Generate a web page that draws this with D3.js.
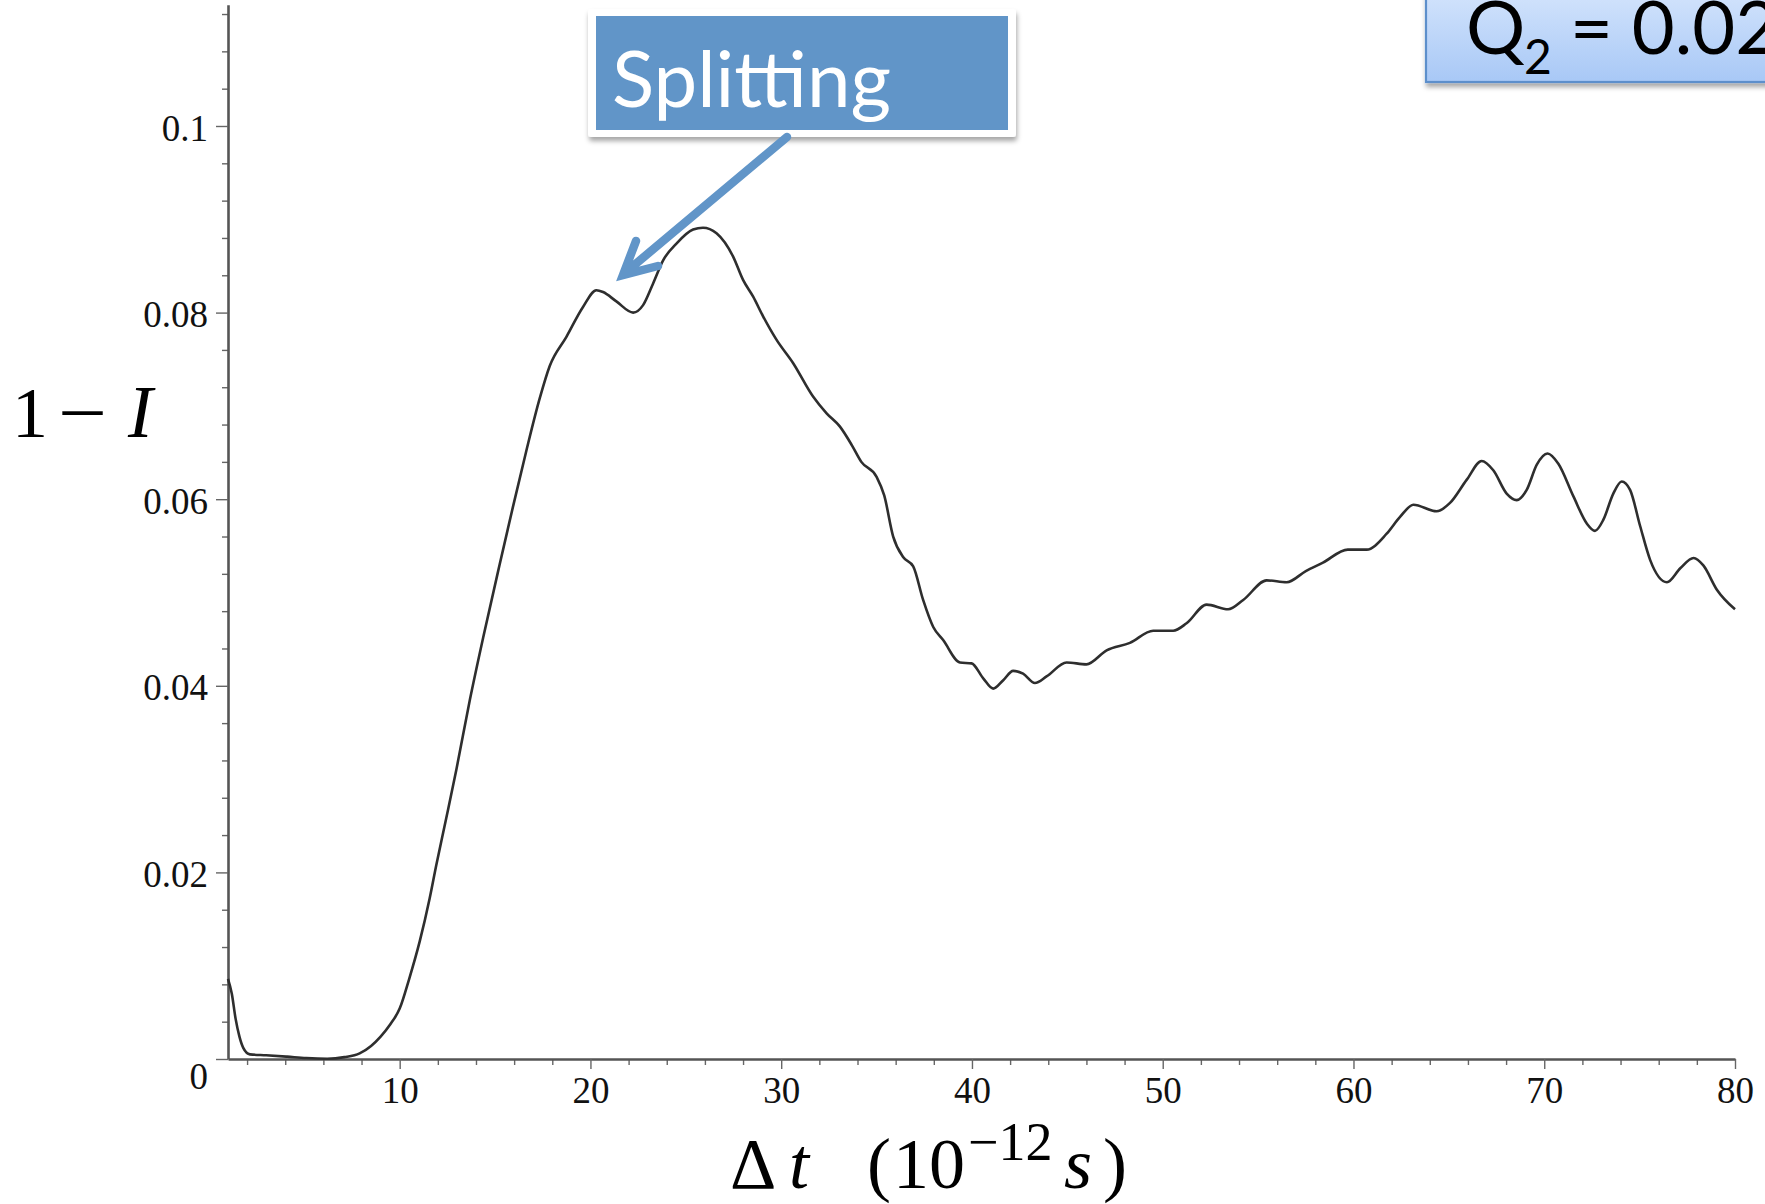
<!DOCTYPE html>
<html>
<head>
<meta charset="utf-8">
<script src="https://cdn.jsdelivr.net/npm/d3@7"></script>
<style>
  html, body { margin: 0; padding: 0; background: #fff; overflow: hidden; }
  svg { display: block; }
</style>
</head>
<body>
<svg id="chart" width="1765" height="1204"></svg>
<script>
// ---- data ----
const deltaT = [1, 1.2, 1.4, 1.6, 1.8, 2.15, 3.0, 4.1, 5.1, 6.2, 7.1, 7.9, 8.5, 9.0, 9.5, 10.0, 10.5,
  11.05, 11.57, 11.92, 12.44, 12.97, 13.68, 14.38, 15.24, 15.94, 16.64, 17.34, 17.87, 18.74, 19.61,
  20.31, 20.66, 21.36, 22.24, 22.76, 23.28, 23.81, 24.51, 25.38, 25.9, 26.61, 27.48, 28.0, 28.53,
  29.05, 29.75, 30.62, 31.67, 32.38, 33.07, 33.7, 34.2, 35.0, 35.4, 35.87, 36.39, 36.92, 37.44,
  37.97, 38.49, 39.37, 39.98, 40.59, 41.11, 41.64, 42.16, 42.68, 43.3, 43.91, 44.96, 46.0, 47.06,
  48.28, 49.5, 50.55, 51.25, 52.3, 53.43, 54.22, 55.45, 56.5, 57.5, 58.4, 59.7, 60.69, 61.74, 62.44,
  63.14, 64.36, 65.06, 65.94, 66.72, 67.33, 68.03, 68.56, 69.08, 69.61, 70.17, 70.74, 71.53, 72.23,
  72.66, 73.1, 73.62, 74.06, 74.5, 75.03, 75.55, 76.43, 77.13, 77.83, 78.34, 79.05, 80];
const oneMinusI = [0.0086, 0.0070, 0.0043, 0.0024, 0.0012, 0.0005, 0.0004, 0.00025, 0.0001, 0.00003,
  0.0002, 0.0006, 0.0014, 0.0024, 0.0037, 0.0054, 0.0086, 0.0126, 0.0172, 0.0208, 0.0258, 0.0310,
  0.0385, 0.0452, 0.0530, 0.0592, 0.0652, 0.0708, 0.0743, 0.0774, 0.0806, 0.0824, 0.0822, 0.0812,
  0.0800, 0.0808, 0.0831, 0.0856, 0.0874, 0.0889, 0.0891, 0.0885, 0.0860, 0.0835, 0.0817, 0.0796,
  0.0771, 0.0746, 0.0710, 0.0692, 0.0678, 0.0658, 0.0640, 0.0624, 0.0604, 0.0560, 0.0538, 0.0528,
  0.0492, 0.0463, 0.0449, 0.0425, 0.0424, 0.0408, 0.0397, 0.0406, 0.0416, 0.0413, 0.0403, 0.0410,
  0.0425, 0.0423, 0.0438, 0.0446, 0.0459, 0.0459, 0.0467, 0.0487, 0.0482, 0.0492, 0.0513, 0.0511,
  0.0523, 0.0532, 0.0546, 0.0546, 0.0563, 0.0581, 0.0594, 0.0587, 0.0596, 0.0621, 0.0641, 0.0631,
  0.0606, 0.0599, 0.0610, 0.0637, 0.0649, 0.0638, 0.0603, 0.0574, 0.0566, 0.0578, 0.0606, 0.0619,
  0.0610, 0.0571, 0.0535, 0.0511, 0.0526, 0.0537, 0.0529, 0.0503, 0.0482];

const xMajorTicks = [10, 20, 30, 40, 50, 60, 70, 80];
const xMinorTicks = [2, 4, 6, 8, 12, 14, 16, 18, 22, 24, 26, 28, 32, 34, 36, 38, 42, 44, 46, 48,
  52, 54, 56, 58, 62, 64, 66, 68, 72, 74, 76, 78];
const yMajorTicks = [0, 0.02, 0.04, 0.06, 0.08, 0.1];
const yMinorTicks = [0.004, 0.008, 0.012, 0.016, 0.024, 0.028, 0.032, 0.036, 0.044, 0.048, 0.052,
  0.056, 0.064, 0.068, 0.072, 0.076, 0.084, 0.088, 0.092, 0.096, 0.104, 0.108, 0.112];
const yTickLabels = ["0", "0.02", "0.04", "0.06", "0.08", "0.1"];

const annotationText = "Splitting";
const paramName = "Q";
const paramSub = "2";
const paramValue = "= 0.02";

// ---- drawing ----
const svg = d3.select("#chart");
const serif = "'Liberation Serif', 'DejaVu Serif', serif";

const x = d3.scaleLinear().domain([1, 80]).range([228, 1735]);
const y = d3.scaleLinear().domain([0, 0.113]).range([1059, 4.7]);

const defs = svg.append("defs");
const sh = defs.append("filter").attr("id", "shadow").attr("x", "-10%").attr("y", "-20%")
  .attr("width", "130%").attr("height", "160%");
sh.append("feDropShadow").attr("dx", 1).attr("dy", 4).attr("stdDeviation", 2.5)
  .attr("flood-color", "#000").attr("flood-opacity", 0.35);
const grad = defs.append("linearGradient").attr("id", "qgrad").attr("x1", 0).attr("y1", 0).attr("x2", 0).attr("y2", 1);
grad.append("stop").attr("offset", "0%").attr("stop-color", "#D3E4FC");
grad.append("stop").attr("offset", "100%").attr("stop-color", "#A8C8F6");

// minor ticks
svg.append("g").attr("transform", `translate(0,${y(0)})`)
  .call(d3.axisBottom(x).tickValues(xMinorTicks).tickSize(6).tickFormat(""))
  .call(g => g.select(".domain").remove())
  .call(g => g.selectAll("line").attr("stroke", "#666").attr("stroke-width", 1.4));
svg.append("g").attr("transform", `translate(${x(1)},0)`)
  .call(d3.axisLeft(y).tickValues(yMinorTicks).tickSize(6).tickFormat(""))
  .call(g => g.select(".domain").remove())
  .call(g => g.selectAll("line").attr("stroke", "#666").attr("stroke-width", 1.4));

// major x axis
svg.append("g").attr("transform", `translate(0,${y(0)})`)
  .call(d3.axisBottom(x).tickValues(xMajorTicks).tickSize(10).tickSizeOuter(0).tickPadding(8))
  .call(g => g.select(".domain").attr("stroke", "#555").attr("stroke-width", 2.6))
  .call(g => g.selectAll(".tick line").attr("stroke", "#666").attr("stroke-width", 1.4))
  .call(g => g.selectAll("text").attr("font-family", serif).attr("font-size", 37).attr("fill", "#111"));

// major y axis
svg.append("g").attr("transform", `translate(${x(1)},0)`)
  .call(d3.axisLeft(y).tickValues(yMajorTicks).tickSize(12).tickSizeOuter(0).tickPadding(8)
    .tickFormat((d, i) => yTickLabels[i]))
  .call(g => g.select(".domain").attr("stroke", "#555").attr("stroke-width", 2.6))
  .call(g => g.selectAll(".tick line").attr("stroke", "#666").attr("stroke-width", 1.4))
  .call(g => g.selectAll("text").attr("font-family", serif).attr("font-size", 37).attr("fill", "#111")
    .attr("dy", "0.38em"))
  .call(g => g.selectAll(".tick").filter(d => d === 0).select("text").attr("dy", "0.8em"));

// curve
const pts = deltaT.map((t, i) => [t, oneMinusI[i]]);
svg.append("path")
  .datum(pts)
  .attr("fill", "none")
  .attr("stroke", "#2e2e2e")
  .attr("stroke-width", 2.6)
  .attr("stroke-linejoin", "round")
  .attr("d", d3.line().x(d => x(d[0])).y(d => y(d[1])).curve(d3.curveMonotoneX));

// y axis title: 1 − I
svg.append("text").attr("font-family", serif).attr("font-size", 72).attr("fill", "#000")
  .attr("x", 12).attr("y", 437).text("1");
svg.append("text").attr("font-family", serif).attr("font-size", 72).attr("fill", "#000")
  .attr("x", 58).attr("y", 437).attr("textLength", 49).attr("lengthAdjust", "spacingAndGlyphs")
  .text("\u2212");
svg.append("text").attr("font-family", serif).attr("font-size", 74).attr("fill", "#000")
  .attr("x", 128).attr("y", 437).attr("font-style", "italic").text("I");

// x axis title: Δt (10^{-12} s)
const xt = svg.append("text").attr("font-family", serif).attr("font-size", 72).attr("fill", "#000")
  .attr("y", 1188);
xt.append("tspan").attr("x", 730).text("\u0394");
xt.append("tspan").attr("x", 789).attr("font-style", "italic").text("t");
xt.append("tspan").attr("x", 867).text("(");
xt.append("tspan").attr("x", 893).text("10");
xt.append("tspan").attr("x", 968).attr("y", 1160).attr("font-size", 54).text("\u221212");
xt.append("tspan").attr("x", 1064).attr("y", 1188).attr("font-style", "italic").text("s");
xt.append("tspan").attr("x", 1103).text(")");

// Splitting annotation
const blue = "#6195C8";
svg.append("rect").attr("x", 588).attr("y", 9).attr("width", 428).attr("height", 128)
  .attr("rx", 3).attr("fill", "#fff").attr("filter", "url(#shadow)");
svg.append("rect").attr("x", 596).attr("y", 16).attr("width", 412).attr("height", 114).attr("fill", blue);
svg.append("text").attr("x", 612).attr("y", 107)
  .attr("font-family", "Lato, 'Open Sans', sans-serif").attr("font-size", 78).attr("fill", "#fff")
  .text(annotationText);
svg.append("path")
  .attr("d", "M787,137 L626,272 M636,241 L623,275 L658,266")
  .attr("fill", "none").attr("stroke", blue).attr("stroke-width", 8.5)
  .attr("stroke-linecap", "round").attr("stroke-linejoin", "miter");

// Q2 parameter box (text runs past the right edge, as in the reference)
svg.append("rect").attr("x", 1426).attr("y", -10).attr("width", 360).attr("height", 92)
  .attr("fill", "url(#qgrad)").attr("stroke", "#5D8FCB").attr("stroke-width", 2.2)
  .attr("filter", "url(#shadow)");
const qt = svg.append("text").attr("font-family", "Lato, 'Open Sans', sans-serif")
  .attr("font-size", 74).attr("fill", "#000").attr("y", 54);
qt.append("tspan").attr("x", 1466).text(paramName);
qt.append("tspan").attr("x", 1524).attr("y", 74).attr("font-size", 48).text(paramSub);
qt.append("tspan").attr("x", 1570).attr("y", 54).text(paramValue);
</script>
</body>
</html>
